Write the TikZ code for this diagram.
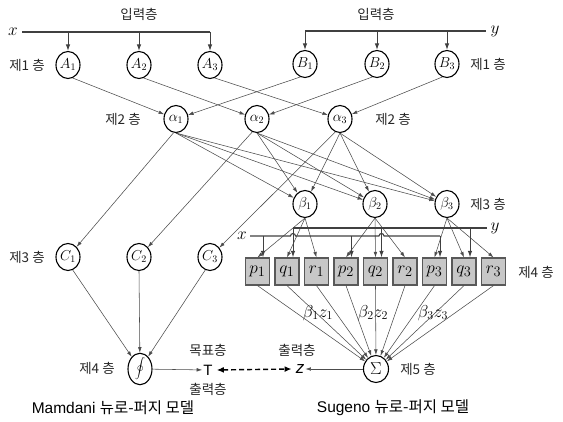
\documentclass[tikz,border=0pt]{standalone}
\usepackage{fontspec}
\setmainfont{Liberation Sans}
\newfontfamily\kr{Noto Sans CJK KR}
\usetikzlibrary{arrows.meta,shapes.geometric}
\begin{document}
\begin{tikzpicture}[x=1pt,y=-1pt,
  neuron/.style={ellipse,draw=black,line width=1.1pt,fill=white,
    minimum width=24pt,minimum height=27pt,inner sep=0pt,
    font=\fontsize{14.5}{16}\selectfont},
  rulebox/.style={rectangle,draw=black!65,line width=1.2pt,fill=black!22,
    minimum width=24pt,minimum height=27pt,inner sep=0pt,
    font=\fontsize{19}{21}\selectfont},
  link/.style={draw=black!70,line width=0.55pt,-{Latex[length=5.5pt,width=3.6pt]}},
  bus/.style={draw=black!75,line width=1.3pt},
  drop/.style={draw=black!75,line width=1pt,-{Latex[length=6.5pt,width=4.5pt]}},
  layer/.style={font=\kr\fontsize{13.5}{15}\selectfont,text=black!85,inner sep=0pt},
  var/.style={font=\fontsize{19}{21}\selectfont,inner sep=0pt},
  caption/.style={font=\fontsize{15.5}{17}\selectfont,inner sep=0pt},
  prod/.style={font=\fontsize{18}{20}\selectfont,inner sep=0pt},
]
\useasboundingbox (0,0) rectangle (563,422);

% ---------- input layer ----------
\node[layer] (in1) at (139,14) {입력층};
\node[layer] (in2) at (376,14) {입력층};
\node[var] (x) at (13,32) {$x$};
\node[var] (y) at (495,31) {$y$};

% ---------- layer 1: membership functions ----------
\node[neuron] (A1) at (68,65) {$A_1$};
\node[neuron] (A2) at (139,65) {$A_2$};
\node[neuron] (A3) at (210,65) {$A_3$};
\node[neuron] (B1) at (305,64) {$B_1$};
\node[neuron] (B2) at (377,64) {$B_2$};
\node[neuron] (B3) at (447,64) {$B_3$};
\node[layer] (l1a) at (27,65) {제1 층};
\node[layer] (l1b) at (488,64) {제1 층};

\draw[bus] ([xshift=4pt]x.east) -- (A3 |- x.east);
\draw[bus] (B1 |- y.west) -- ([xshift=-4pt]y.west);
\foreach \n in {A1,A2,A3} \draw[drop] (\n |- x.east) -- (\n.north);
\foreach \n in {B1,B2,B3} \draw[drop] (\n |- y.west) -- (\n.north);

% ---------- layer 2: rule firing ----------
\node[neuron] (al1) at (176,119) {$\alpha_1$};
\node[neuron] (al2) at (257,119) {$\alpha_2$};
\node[neuron] (al3) at (340,119) {$\alpha_3$};
\node[layer] (l2a) at (123,119) {제2 층};
\node[layer] (l2b) at (393,119) {제2 층};

\draw[link] (A1.-70) -- (al1);
\draw[link] (A2.-70) -- (al2);
\draw[link] (A3.-70) -- (al3);
\draw[link] (B1.-110) -- (al1);
\draw[link] (B2.-110) -- (al2);
\draw[link] (B3.-110) -- (al3);

% ---------- Mamdani branch ----------
\node[neuron] (C1) at (68,257) {$C_1$};
\node[neuron] (C2) at (139,257) {$C_2$};
\node[neuron] (C3) at (210,257) {$C_3$};
\node[layer] (l3a) at (27,257) {제3 층};

\draw[link] (al1.-100) -- (C1);
\draw[link] (al2.-110) -- (C2);
\draw[link] (al3.-110) -- (C3);

\node[neuron,minimum width=24pt,minimum height=26pt] (int) at (140,369)
  {\fontsize{9.5}{10}\selectfont$\displaystyle\oint$};
\node[layer] (l4a) at (97,368) {제4 층};
\draw[link] (C1.-70) -- (int);
\draw[link] (C2.south) -- (int);
\draw[link] (C3.-110) -- (int);

\node[font=\fontsize{15}{16}\selectfont,inner sep=1pt] (T) at (208,370) {T};
\node[layer] (goal) at (208,350) {목표층};
\node[layer] (outa) at (208,389) {출력층};
\draw[link] (int) -- (T);

% ---------- layer 3: normalisation ----------
\node[neuron] (be1) at (305,204) {$\beta_1$};
\node[neuron] (be2) at (375,204) {$\beta_2$};
\node[neuron] (be3) at (447,204) {$\beta_3$};
\node[layer] (l3b) at (488,204) {제3 층};
\foreach \a in {al1,al2,al3}
  \foreach \b in {be1,be2,be3}
    \draw[link] (\a.south) -- (\b);

% ---------- layer 4: consequent parameters ----------
\foreach \v/\i [count=\k from 0] in {p/1,q/1,r/1,p/2,q/2,r/2,p/3,q/3,r/3}
  \node[rulebox] (\v\i) at ({257.5+29.5*\k},271.5) {$\v_{\i}$};
\node[layer] (l4b) at (536,272) {제4 층};

\foreach \i in {1,2,3} {
  \draw[link] (be\i.south) -- (p\i.north);
  \draw[link] (be\i.south) -- (q\i.north);
  \draw[link] (be\i.south) -- (r\i.north);
}

\node[var] (x4) at (242,236) {$x$};
\node[var] (y4) at (495,228) {$y$};
\foreach \i in {1,2,3} {
  \coordinate (dx\i) at ([xshift=5.5pt]p\i.north);
  \coordinate (dy\i) at ([xshift=6pt]q\i.north);
}
\draw[bus,line width=1.1pt] ([xshift=3pt]x4.east)
  -- ([xshift=-2.5pt]dy1 |- x4.east) arc[start angle=180,end angle=0,radius=2.5pt]
  -- ([xshift=-2.5pt]dy2 |- x4.east) arc[start angle=180,end angle=0,radius=2.5pt]
  -- (dx3 |- x4.east);
\draw[bus,line width=1.1pt] (dy1 |- y4.west) -- ([xshift=-3pt]y4.west);
\foreach \i in {1,2,3} {
  \draw[drop] (dx\i |- x4.east) -- (dx\i);
  \draw[drop] (dy\i |- y4.west) -- (dy\i);
}

% ---------- layer 5: weighted sum ----------
\node[neuron,minimum width=25pt,minimum height=27pt] (sig) at (376,369)
  {\fontsize{16}{17}\selectfont$\Sigma$};
\node[layer] (l5) at (418,369) {제5 층};
\foreach \n in {p1,q1,r1,p2,q2,r2,p3,q3,r3}
  \draw[link] (\n.south) -- (sig);

\node[prod] (w1) at (318,313) {$\beta_1 z_1$};
\node[prod] (w2) at (373,313) {$\beta_2 z_2$};
\node[prod] (w3) at (433,313) {$\beta_3 z_3$};

\node[font=\fontsize{17}{18}\selectfont\itshape,inner sep=1pt] (z) at (300,369) {z};
\node[layer] (outb) at (297,350) {출력층};
\draw[link] (sig) -- (z);
\draw[draw=black,line width=1.4pt,dash pattern=on 5pt off 3pt,
  {Latex[length=7pt,width=6pt]}-{Latex[length=7pt,width=6pt]}]
  ([xshift=3pt]T.east) -- ([xshift=-3pt]z.west);

% ---------- captions ----------
\node[caption] (capm) at (113,408) {Mamdani {\kr 뉴로-퍼지 모델}};
\node[caption] (caps) at (393,408) {Sugeno {\kr 뉴로-퍼지 모델}};
\end{tikzpicture}
\end{document}
